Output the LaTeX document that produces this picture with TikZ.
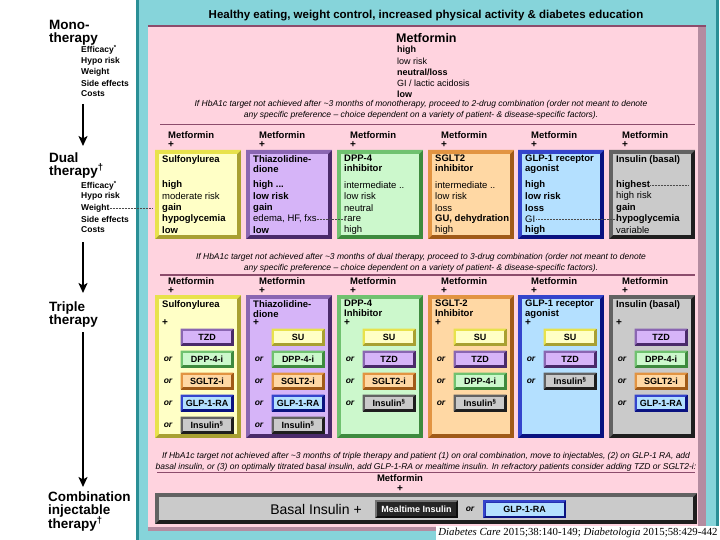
\documentclass[tikz,border=0pt]{standalone}
\usepackage{fontspec}
\setmainfont{Liberation Sans}
\newfontfamily\citefont{Liberation Serif}
\usetikzlibrary{arrows.meta}
\definecolor{tealL}{HTML}{86D4DA}
\definecolor{tealD}{HTML}{2A8F96}
\definecolor{pinkbg}{HTML}{FFD3DF}
\definecolor{pinkdk}{HTML}{8C4C6C}
\definecolor{pinkbv}{HTML}{B48CA0}
\definecolor{suF}{HTML}{FFFFC6}\definecolor{suL}{HTML}{E8E24C}\definecolor{suD}{HTML}{A8A032}
\definecolor{tzF}{HTML}{D6B4F8}\definecolor{tzL}{HTML}{8A66B2}\definecolor{tzD}{HTML}{4A2A6A}
\definecolor{dpF}{HTML}{CCF8CC}\definecolor{dpL}{HTML}{70C270}\definecolor{dpD}{HTML}{3E8A3E}
\definecolor{sgF}{HTML}{FFD8A4}\definecolor{sgL}{HTML}{E29442}\definecolor{sgD}{HTML}{A05A18}
\definecolor{glF}{HTML}{B4E0FF}\definecolor{glL}{HTML}{3444CC}\definecolor{glD}{HTML}{0A1280}
\definecolor{inF}{HTML}{CACACA}\definecolor{inL}{HTML}{626262}\definecolor{inD}{HTML}{1E1E1E}
\def\bt{3}
\newcommand\bev[7]{%
  \fill[#7] (#1,#2) rectangle (#3,#4);
  \fill[#6] (#1,#2) -- (#3,#2) -- ({#3-\bt},{#2+\bt}) -- ({#1+\bt},{#2+\bt}) -- ({#1+\bt},{#4-\bt}) -- (#1,#4) -- cycle;
  \fill[#5] ({#1+\bt},{#2+\bt}) rectangle ({#3-\bt},{#4-\bt});}
\newcommand\dualbox[9]{%
  \def\bt{4}%
  \bev{#2}{150}{#2+86}{239}{#3F}{#3L}{#3D}%
  \node[mlab] (#1m) at ({#2+13},135) {Metformin};
  \node[plab] (#1p) at ({#2+16},145) {+};
  \node[btitle] (#1t) at ({#2+7},155) {#4};
  \node[val] (#1a) at ({#2+7},185.5) {#5};
  \node[val] (#1b) at ({#2+7},196.5) {#6};
  \node[val] (#1c) at ({#2+7},208) {#7};
  \node[val] (#1d) at ({#2+7},219) {#8};
  \node[val] (#1e) at ({#2+7},230) {#9};}
\newcommand\triplebox[4]{%
  \def\bt{4}%
  \bev{#2}{295}{#2+86}{438}{#3F}{#3L}{#3D}%
  \node[mlab] (#1m) at ({#2+13},281) {Metformin};
  \node[plab] (#1p) at ({#2+16},291) {+};
  \node[btitle] (#1t) at ({#2+7},300) {#4};
  \node[plab] (#1q) at ({#2+10},323) {+};}
\newcommand\sub[5]{%
  \def\bt{2.5}%
  \bev{#2+25.5}{#3-8.5}{#2+78.5}{#3+8.5}{#4F}{#4L}{#4D}%
  \node[subtxt] (#1) at ({#2+52},#3) {#5};}
\newcommand\subor[5]{\node[ortxt] (#1o) at ({#2+13},#3) {or};\sub{#1}{#2}{#3}{#4}{#5}}
\newcommand\ins{Insulin\textsuperscript{\S}}
\begin{document}
\begin{tikzpicture}[x=1pt,y=-1pt,
  biglab/.style={font=\bfseries\fontsize{13.5}{14}\selectfont,anchor=base west,inner sep=0pt},
  crit/.style={font=\bfseries\fontsize{8.5}{9}\selectfont,anchor=west,inner sep=0pt},
  mlab/.style={font=\bfseries\fontsize{9.5}{10}\selectfont,anchor=west,inner sep=0pt},
  plab/.style={font=\bfseries\fontsize{10}{10}\selectfont,inner sep=0pt},
  btitle/.style={font=\bfseries\fontsize{9.5}{10}\selectfont,anchor=north west,align=left,inner sep=0pt},
  val/.style={font=\fontsize{9.5}{10}\selectfont,anchor=west,inner sep=0pt},
  subtxt/.style={font=\bfseries\fontsize{9}{10}\selectfont,inner sep=0pt},
  ortxt/.style={font=\bfseries\itshape\fontsize{8.5}{10}\selectfont,inner sep=0pt},
  foot/.style={font=\itshape\fontsize{8.5}{11}\selectfont,align=center,inner sep=0pt},
  flow/.style={line width=2.8pt,-{Stealth[length=10pt,width=9pt,inset=2.5pt]}},
  dotl/.style={densely dotted,line width=0.5pt,black!70},
  divl/.style={pinkdk,line width=1.6pt}]
\useasboundingbox (0,0) rectangle (720,540);
\fill[white] (0,0) rectangle (720,540);
% frames
\fill[tealD] (136,-5) rectangle (719,545);
\fill[tealL] (138.5,-5) rectangle (716,545);
\fill[pinkbv] (148,25) rectangle (706,531);
\fill[pinkdk] (148,25) rectangle (706,27.5);
\fill[pinkbg] (148,27.5) rectangle (698,527);
% left column
\node[biglab] (mono1) at (49,29.5) {Mono-};
\node[biglab] (mono2) at (49,42.5) {therapy};
\node[crit] (mc1) at (81,50) {Efficacy\textsuperscript{*}};
\node[crit] (mc2) at (81,61) {Hypo risk};
\node[crit] (mc3) at (81,72) {Weight};
\node[crit] (mc4) at (81,83) {Side effects};
\node[crit] (mc5) at (81,94) {Costs};
\coordinate (a1s) at (83,104); \coordinate (a1e) at (83,146);
\draw[flow] (a1s) -- (a1e);
\node[biglab] (dual1) at (49,163) {Dual};
\node[biglab] (dual2) at (49,176) {therapy\textsuperscript{†}};
\node[crit] (dc1) at (81,185.5) {Efficacy\textsuperscript{*}};
\node[crit] (dc2) at (81,196.5) {Hypo risk};
\node[crit] (dc3) at (81,208) {Weight};
\node[crit] (dc4) at (81,219) {Side effects};
\node[crit] (dc5) at (81,230) {Costs};
\coordinate (dotW) at (152,208);
\draw[dotl] (dc3.east) -- (dotW);
\coordinate (a2s) at (83,242); \coordinate (a2e) at (83,293);
\draw[flow] (a2s) -- (a2e);
\node[biglab] (tri1) at (49,311) {Triple};
\node[biglab] (tri2) at (49,324) {therapy};
\coordinate (a3s) at (83,332); \coordinate (a3e) at (83,487);
\draw[flow] (a3s) -- (a3e);
\node[biglab] (comb1) at (48,501) {Combination};
\node[biglab] (comb2) at (48,514.5) {injectable};
\node[biglab] (comb3) at (48,528.5) {therapy\textsuperscript{†}};
% top band
\node[font=\bfseries\fontsize{11.5}{12}\selectfont,inner sep=0pt] (life) at (426,16) {Healthy eating, weight control, increased physical activity \& diabetes education};
% monotherapy
\node[font=\bfseries\fontsize{12.5}{14}\selectfont,anchor=west,inner sep=0pt] (met) at (396,38) {Metformin};
\node[val,font=\bfseries\fontsize{9}{10}\selectfont] (mv1) at (397,50.5) {high};
\node[val,font=\fontsize{9}{10}\selectfont] (mv2) at (397,61.5) {low risk};
\node[val,font=\bfseries\fontsize{9}{10}\selectfont] (mv3) at (397,72.5) {neutral/loss};
\node[val,font=\fontsize{9}{10}\selectfont] (mv4) at (397,83.5) {GI / lactic acidosis};
\node[val,font=\bfseries\fontsize{9}{10}\selectfont] (mv5) at (397,94) {low};
\node[foot] (fn1) at (421,109.5) {If HbA1c target not achieved after \textasciitilde 3 months of monotherapy, proceed to 2-drug combination (order not meant to denote\\any specific preference -- choice dependent on a variety of patient- \& disease-specific factors).};
\coordinate (d1a) at (160,124.5); \coordinate (d1b) at (695,124.5);
\draw[divl] (d1a) -- (d1b);
% dual therapy
\dualbox{su}{155}{su}{Sulfonylurea}{\bfseries high}{moderate risk}{\bfseries gain}{\bfseries hypoglycemia}{\bfseries low}
\dualbox{tz}{246}{tz}{Thiazolidine-\\dione}{\bfseries high ...}{\bfseries low risk}{\bfseries gain}{edema, HF, fxs}{\bfseries low}
\dualbox{dp}{337}{dp}{DPP-4\\inhibitor}{intermediate ..}{low risk}{neutral}{rare}{high}
\dualbox{sg}{428}{sg}{SGLT2\\inhibitor}{intermediate ..}{low risk}{loss}{\bfseries GU, dehydration}{high}
\dualbox{gl}{518}{gl}{GLP-1 receptor\\agonist}{\bfseries high}{\bfseries low risk}{\bfseries loss}{GI}{\bfseries high}
\dualbox{in}{609}{in}{Insulin (basal)}{\bfseries highest}{high risk}{\bfseries gain}{\bfseries hypoglycemia}{variable}
\draw[dotl] (tzd.east) -- (dpd.west);
\draw[dotl] ([xshift=1pt]gld.east) -- (ind.west);
\coordinate (hiEnd) at (688,185.5);
\draw[dotl] (ina.east) -- (hiEnd);
\node[foot] (fn2) at (421,262.5) {If HbA1c target not achieved after \textasciitilde 3 months of dual therapy, proceed to 3-drug combination (order not meant to denote\\any specific preference -- choice dependent on a variety of patient- \& disease-specific factors).};
\coordinate (d2a) at (160,275); \coordinate (d2b) at (695,275);
\draw[divl] (d2a) -- (d2b);
% triple therapy
\triplebox{tsu}{155}{su}{Sulfonylurea}
\sub{tsu1}{155}{337}{tz}{TZD}
\subor{tsu2}{155}{359}{dp}{DPP-4-i}
\subor{tsu3}{155}{381}{sg}{SGLT2-i}
\subor{tsu4}{155}{403}{gl}{GLP-1-RA}
\subor{tsu5}{155}{425}{in}{\ins}
\triplebox{ttz}{246}{tz}{Thiazolidine-\\dione}
\sub{ttz1}{246}{337}{su}{SU}
\subor{ttz2}{246}{359}{dp}{DPP-4-i}
\subor{ttz3}{246}{381}{sg}{SGLT2-i}
\subor{ttz4}{246}{403}{gl}{GLP-1-RA}
\subor{ttz5}{246}{425}{in}{\ins}
\triplebox{tdp}{337}{dp}{DPP-4\\Inhibitor}
\sub{tdp1}{337}{337}{su}{SU}
\subor{tdp2}{337}{359}{tz}{TZD}
\subor{tdp3}{337}{381}{sg}{SGLT2-i}
\subor{tdp4}{337}{403}{in}{\ins}
\triplebox{tsg}{428}{sg}{SGLT-2\\Inhibitor}
\sub{tsg1}{428}{337}{su}{SU}
\subor{tsg2}{428}{359}{tz}{TZD}
\subor{tsg3}{428}{381}{dp}{DPP-4-i}
\subor{tsg4}{428}{403}{in}{\ins}
\triplebox{tgl}{518}{gl}{GLP-1 receptor\\agonist}
\sub{tgl1}{518}{337}{su}{SU}
\subor{tgl2}{518}{359}{tz}{TZD}
\subor{tgl3}{518}{381}{in}{\ins}
\triplebox{tin}{609}{in}{Insulin (basal)}
\sub{tin1}{609}{337}{tz}{TZD}
\subor{tin2}{609}{359}{dp}{DPP-4-i}
\subor{tin3}{609}{381}{sg}{SGLT2-i}
\subor{tin4}{609}{403}{gl}{GLP-1-RA}
\node[foot] (fn3) at (426,461.5) {If HbA1c target not achieved after \textasciitilde 3 months of triple therapy and patient (1) on oral combination, move to injectables, (2) on GLP-1 RA, add\\basal insulin, or (3) on optimally titrated basal insulin, add GLP-1-RA or mealtime insulin. In refractory patients consider adding TZD or SGLT2-i:};
\coordinate (d3a) at (157,472.5); \coordinate (d3b) at (695,472.5);
\draw[divl] (d3a) -- (d3b);
% combination injectable
\node[mlab,anchor=center] (bm) at (400,478.5) {Metformin};
\node[plab] (bp) at (400,488.5) {+};
\def\bt{4}\bev{155}{493}{697}{524}{inF}{inL}{inD}
\node[font=\fontsize{14}{14}\selectfont,inner sep=0pt] (basal) at (316,509.5) {Basal Insulin +};
\def\bt{2}\bev{375}{500}{458}{518}{black!85}{black!55}{black!95}
\node[font=\bfseries\fontsize{9}{10}\selectfont,text=white,inner sep=0pt] (meal) at (416.5,509) {Mealtime Insulin};
\node[ortxt] (bor) at (470,509) {or};
\def\bt{2.5}\bev{483}{500}{566}{518}{glF}{glL}{glD}
\node[subtxt] (bglp) at (524.5,509) {GLP-1-RA};
% citation
\fill[white] (436,525.5) rectangle (720,541);
\node[font=\citefont\fontsize{10.8}{12}\selectfont,inner sep=0pt] (cite) at (578,533) {\textit{Diabetes Care} 2015;38:140-149; \textit{Diabetologia} 2015;58:429-442};
\end{tikzpicture}
\end{document}
